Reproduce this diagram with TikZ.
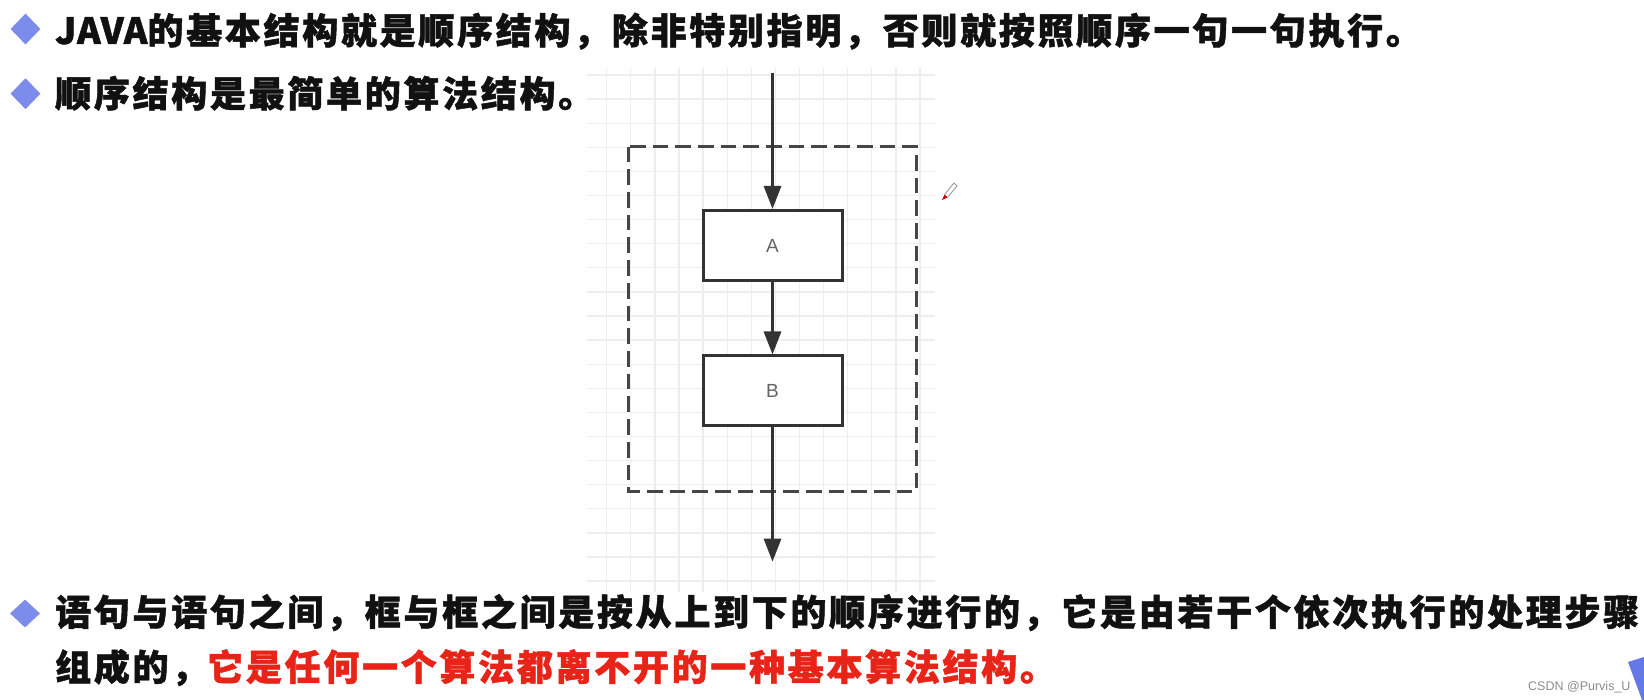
\documentclass[tikz,border=0pt]{standalone}
\usepackage{fontspec}
\newfontfamily\cjk{Noto Sans CJK SC}[LetterSpace=7.5, FakeBold=1.3]
\newfontfamily\lsans{Liberation Sans}
\usetikzlibrary{arrows.meta,shapes.geometric}
\definecolor{bulletblue}{RGB}{124,140,235}
\definecolor{redtxt}{RGB}{232,36,24}
\definecolor{gridgray}{RGB}{238,238,238}
\definecolor{linedark}{RGB}{51,51,51}
\definecolor{dashdark}{RGB}{70,70,70}
\definecolor{labelgray}{RGB}{100,100,100}
\definecolor{wmgray}{RGB}{140,140,140}
\definecolor{cornerblue}{RGB}{100,120,230}
\definecolor{txtblack}{RGB}{17,17,17}
\tikzset{
  gridline/.style={draw=gridgray, line width=1.3pt},
  dashbox/.style={draw=dashdark, line width=3pt, dash pattern=on 15.7pt off 7pt},
  procbox/.style={draw=linedark, line width=3pt, fill=white, minimum width=139pt, minimum height=70pt, inner sep=0pt, font=\lsans\fontsize{19}{19}\selectfont, text=labelgray},
  flowarrow/.style={draw=linedark, line width=3pt, -{Triangle[length=23pt,width=17pt]}},
  bulletmark/.style={diamond, fill=bulletblue, draw=none, inner sep=0pt, minimum width=30pt, minimum height=31pt},
  bodytext/.style={anchor=base west, inner sep=0pt, text=txtblack, font=\cjk\bfseries\fontsize{36}{36}\selectfont},
  wmtext/.style={anchor=base west, inner sep=0pt, text=wmgray, font=\lsans\fontsize{12.5}{12.5}\selectfont}
}
\begin{document}
\begin{tikzpicture}[x=1pt,y=-1pt]
\useasboundingbox (0,0) rectangle (1644,700);
\fill[white] (0,0) rectangle (1644,700);
% grid
\foreach \i in {0,...,13} \draw[gridline] ({606.7+24.1*\i},68) -- ({606.7+24.1*\i},592);
\foreach \j in {0,...,21} \draw[gridline] (587,{75+24.1*\j}) -- (935,{75+24.1*\j});
% dashed frame
\draw[dashbox] (628,146.7) rectangle (916.7,491);
% boxes
\node[procbox] (A) at (772.5,245.5) {A};
\node[procbox] (B) at (772.5,391) {B};
\coordinate (start) at (772.5,72.7);
\coordinate (finish) at (772.5,561.7);
\draw[flowarrow] (start) -- (A.north);
\draw[flowarrow] (A.south) -- (B.north);
\draw[flowarrow] (B.south) -- (finish);
% pen icon
\fill[red!80!black] (942,200) -- (944.5,194.5) -- (947.5,197.5) -- cycle;
\draw[gray!80, line width=0.9pt] (944.5,194.5) -- (954,183) -- (957,186) -- (947.5,197.5);
% bullets and text
\node[bulletmark] (b1) at (25.5,29) {};
\node[bulletmark] (b2) at (25.5,93.7) {};
\node[bulletmark, minimum height=28pt] (b3) at (25,613.5) {};
\node[bodytext] (t1) at (55,44) {{\addfontfeature{LetterSpace=2}JAVA}的基本结构就是顺序结构，除非特别指明，否则就按照顺序一句一句执行。};
\node[bodytext] (t2) at (55,107) {顺序结构是最简单的算法结构。};
\node[bodytext] (t3) at (55,625.5) {语句与语句之间，框与框之间是按从上到下的顺序进行的，它是由若干个依次执行的处理步骤};
\node[bodytext] (t4) at (55,680.5) {组成的，\textcolor{redtxt}{它是任何一个算法都离不开的一种基本算法结构。}};
% watermark and corner
\node[wmtext] (wm) at (1528,690) {CSDN @Purvis\_U};
\fill[cornerblue] (1628,662) -- (1644,657) -- (1644,700) -- (1642,700) -- cycle;
\end{tikzpicture}
\end{document}
